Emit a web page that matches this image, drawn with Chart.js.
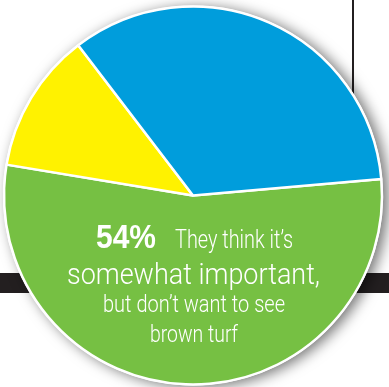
<!DOCTYPE html>
<html>
<head>
<meta charset="utf-8">
<script src="https://cdn.jsdelivr.net/npm/chart.js@4"></script>
<style>
    html, body { margin: 0; padding: 0; background: #ffffff; overflow: hidden; }
    #wrap { width: 389px; height: 387px; position: relative; }
</style>
</head>
<body>
<div id="wrap"><canvas id="grafico"></canvas></div>
<script>
// Dados do gráfico
const categorias = ['Somewhat important', 'Not important', 'Very important'];
const valores = [54, 12, 34];
const cores = ['#76c043', '#fff200', '#009ddc'];

// Texto do rótulo principal
const rotuloPercentual = '54%';
const rotuloLinhas = ['They think it\u2019s', 'somewhat important,', 'but don\u2019t want to see', 'brown turf'];

// Fundo: linha vertical, faixa escura e sombra do círculo
const fundoPlugin = {
    id: 'fundo',
    beforeDatasetsDraw(chart) {
        const ctx = chart.ctx;
        const arc = chart.getDatasetMeta(0).data[0];
        ctx.save();
        ctx.fillStyle = '#231f20';
        ctx.fillRect(352, 0, 2, 200);
        ctx.fillRect(0, 273, chart.width, 20);

        ctx.shadowColor = 'rgba(0, 0, 0, 0.55)';
        ctx.shadowBlur = 14;
        ctx.shadowOffsetX = 5;
        ctx.shadowOffsetY = 2;
        ctx.fillStyle = '#ffffff';
        ctx.beginPath();
        ctx.arc(arc.x, arc.y, arc.outerRadius + 1, 0, Math.PI * 2);
        ctx.fill();
        ctx.restore();
    }
};

// Desenha texto comprimido horizontalmente até a largura desejada
function textoAjustado(ctx, texto, x, y, fonte, largura) {
    ctx.font = fonte;
    const w = ctx.measureText(texto).width;
    ctx.save();
    ctx.translate(x, y);
    ctx.scale(largura / w, 1);
    ctx.textAlign = 'left';
    ctx.textBaseline = 'alphabetic';
    ctx.fillText(texto, 0, 0);
    ctx.restore();
}

const textoPlugin = {
    id: 'texto',
    afterDatasetsDraw(chart) {
        const ctx = chart.ctx;
        ctx.save();
        ctx.fillStyle = '#ffffff';
        textoAjustado(ctx, rotuloPercentual, 96, 248, 'bold 33px "Liberation Sans"', 60);
        textoAjustado(ctx, rotuloLinhas[0], 175, 248, '300 25px Roboto', 118);
        textoAjustado(ctx, rotuloLinhas[1], 67, 284, '300 29px Roboto', 253);
        textoAjustado(ctx, rotuloLinhas[2], 103, 312, '300 23px Roboto', 182);
        textoAjustado(ctx, rotuloLinhas[3], 150, 342, '300 24px Roboto', 88);
        ctx.restore();
    }
};

const ctx = document.getElementById('grafico').getContext('2d');
new Chart(ctx, {
    type: 'pie',
    data: {
        labels: categorias,
        datasets: [{
            data: valores,
            backgroundColor: cores,
            borderColor: '#ffffff',
            borderWidth: 2.5
        }]
    },
    options: {
        responsive: true,
        maintainAspectRatio: false,
        animation: false,
        rotation: 85,
        radius: 189,
        layout: {
            padding: { left: 0, right: 3, top: 4, bottom: 0 }
        },
        plugins: {
            legend: { display: false },
            tooltip: { enabled: false }
        }
    },
    plugins: [fundoPlugin, textoPlugin]
});
</script>
</body>
</html>
